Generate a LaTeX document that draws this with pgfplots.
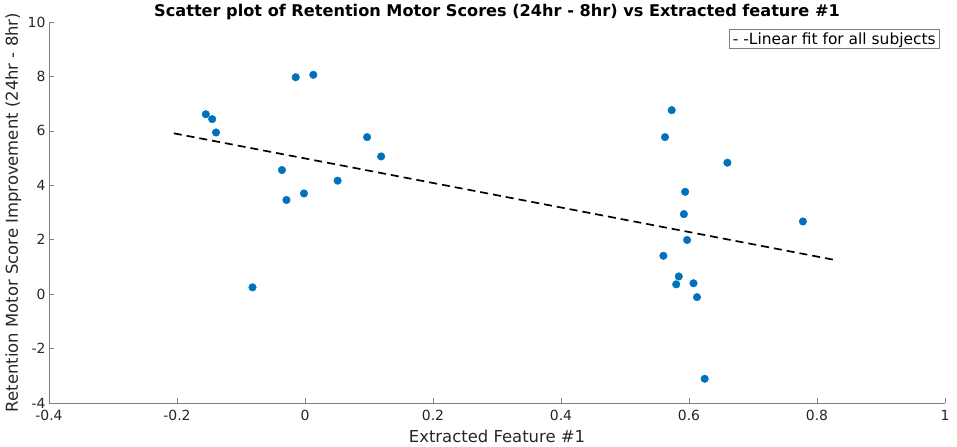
\documentclass[border=0pt]{standalone}
\usepackage{pgfplots}
\pgfplotsset{compat=1.18}
\usepackage{fontspec}
\setmainfont{DejaVu Sans}
\definecolor{mblue}{RGB}{0,114,189}
\definecolor{axgray}{RGB}{128,128,128}
\definecolor{txt}{RGB}{38,38,38}
\begin{document}
\begin{tikzpicture}
\begin{axis}[
  name=ax,
  scale only axis,
  width=896bp, height=381bp,
  xmin=-0.4, xmax=1, ymin=-4, ymax=10,
  xtick={-0.4,-0.2,0,0.2,0.4,0.6,0.8,1},
  xticklabels={-0.4,-0.2,0,0.2,0.4,0.6,0.8,1},
  ytick={-4,-2,0,2,4,6,8,10},
  yticklabels={-4,-2,0,2,4,6,8,10},
  axis x line*=bottom, axis y line*=left,
  axis line style={axgray, line width=0.6pt, -},
  tick style={axgray, line width=0.6pt},
  tick align=inside,
  major tick length=5bp,
  ticklabel style={font=\fontsize{14}{15}\selectfont, text=txt},
  /pgf/number format/assume math mode=true,
  xticklabel style={yshift=-4bp},
  yticklabel style={xshift=0bp},
  xlabel={Extracted Feature \#1},
  ylabel={Retention Motor Score Improvement (24hr - 8hr)},
  label style={font=\fontsize{16.5}{17}\selectfont, text=txt},
  xlabel style={at={(axis description cs:0.5,0)}, anchor=base, yshift=-39bp},
  ylabel style={at={([xshift=-31bp]axis description cs:0,0.5)}, anchor=base},
  title={Scatter plot of Retention Motor Scores (24hr - 8hr) vs Extracted feature \#1},
  every axis title/.style={at={(axis description cs:0.5,1)}, anchor=base, yshift=5.5bp, font=\fontsize{16.2}{17}\bfseries, text=black},
  legend style={at={(0.9944,0.9816)}, anchor=north east, draw=axgray, line width=0.6pt,
    font=\fontsize{15.5}{16}\selectfont, inner xsep=2pt, inner ysep=1pt, row sep=0pt},
  legend cell align=left,
  clip=false,
]
\addplot[only marks, mark=*, mark size=3.8bp, mblue, mark options={draw=mblue, fill=mblue}, forget plot] coordinates {
(-0.155,6.61) (-0.145,6.43) (-0.139,5.94) (-0.0145,7.97) (0.013,8.06)
(0.097,5.77) (0.119,5.06) (-0.036,4.56) (0.051,4.17) (-0.0016,3.70)
(-0.029,3.46) (-0.082,0.25)
(0.573,6.76) (0.5625,5.77) (0.660,4.83) (0.594,3.76) (0.592,2.94)
(0.778,2.67) (0.597,1.99) (0.560,1.41) (0.584,0.65) (0.580,0.36)
(0.607,0.40) (0.6125,-0.11) (0.6245,-3.11)
};
\addplot[black, line width=1.7bp, dash pattern=on 8bp off 5bp, forget plot] coordinates {(-0.205,5.91) (0.827,1.26)};
\addlegendimage{empty legend}
\addlegendentry{- -Linear fit for all subjects}
\end{axis}
\pgfresetboundingbox
\path ([shift={(-49bp,-44bp)}]ax.south west) rectangle ([shift={(12bp,22bp)}]ax.north east);
\end{tikzpicture}
\end{document}
